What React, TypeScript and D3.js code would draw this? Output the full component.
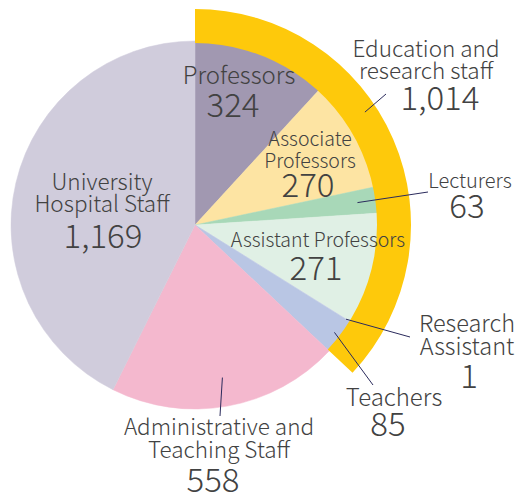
//@ts-nocheck
import { useEffect, useRef } from 'react';
import * as d3 from 'd3';

// slice data, clockwise from 12 o'clock
const categories = [
    'Professors',
    'Associate Professors',
    'Lecturers',
    'Assistant Professors',
    'Research Assistant',
    'Teachers',
    'Administrative and Teaching Staff',
    'University Hospital Staff',
];
const values = [324, 270, 63, 271, 1, 85, 558, 1169];
const colors = ['#a198b1', '#fde4a3', '#a8d8b8', '#e0f0e5', '#d6dbe8', '#b9c6e4', '#f4b8ce', '#d0ccdc'];

// outer ring group
const groupName = ['Education and', 'research staff'];
const groupSize = 6; // first six categories

// label layout: name lines, line baselines, number baseline, leader line
const labelLayout = [
    { lines: ['Professors'], x: 239, ys: [84], nx: 233, ny: 117, size: 24 },
    { lines: ['Associate', 'Professors'], x: 310, ys: [146, 168], nx: 308, ny: 197, size: 19.5 },
    { lines: ['Lecturers'], x: 470, ys: [188], nx: 467, ny: 218, size: 20, leader: { r: 164, to: [428, 192] } },
    { lines: ['Assistant Professors'], x: 318, ys: [247], nx: 316, ny: 280, size: 19.5 },
    { lines: ['Research', 'Assistant'], x: 467, ys: [332, 355], nx: 469, ny: 388, size: 23.5, leader: { r: 178, to: [410, 337] } },
    { lines: ['Teachers'], x: 394, ys: [406], nx: 388, ny: 436, size: 24, leader: { r: 176, to: [373, 385] } },
    { lines: ['Administrative and', 'Teaching Staff'], x: 219, ys: [435, 458], nx: 213, ny: 492, size: 22.5, leader: { r: 155, to: [220, 416] } },
    { lines: ['University', 'Hospital Staff'], x: 102, ys: [190, 212], nx: 103, ny: 248, size: 22.5 },
];

const FONT = '"Noto Sans CJK JP", "Noto Sans", sans-serif';
const TEXT = '#424242';
const LINE = '#2b2b5c';

const PieChart = () => {
    const svgRef = useRef();

    useEffect(() => {
        const svg = d3.select(svgRef.current);
        svg.selectAll('*').remove();

        const cx = 195;
        const cy = 225;
        const radius = 184;
        const fmt = d3.format(',');

        const pie = d3.pie().sort(null).value((d) => d);
        const arcs = pie(values);
        const arc = d3.arc().innerRadius(0).outerRadius(radius);

        const g = svg.append('g').attr('transform', `translate(${cx}, ${cy})`);

        // slices
        g.selectAll('path.slice')
            .data(arcs)
            .enter()
            .append('path')
            .attr('class', 'slice')
            .attr('d', arc)
            .attr('fill', (d, i) => colors[i])
            .attr('stroke', (d, i) => colors[i])
            .attr('stroke-width', 0.5);

        // outer ring for education & research staff
        const groupTotal = d3.sum(values.slice(0, groupSize));
        const ringArc = d3.arc()
            .innerRadius(radius - 2)
            .outerRadius(216)
            .startAngle(arcs[0].startAngle)
            .endAngle(arcs[groupSize - 1].endAngle);
        g.append('path').attr('d', ringArc()).attr('fill', '#fec90b');

        const point = (angle, r) => [Math.sin(angle) * r, -Math.cos(angle) * r];

        // leader lines
        arcs.forEach((d, i) => {
            const lay = labelLayout[i];
            if (!lay.leader) return;
            const mid = (d.startAngle + d.endAngle) / 2;
            const [x1, y1] = point(mid, lay.leader.r);
            g.append('line')
                .attr('x1', x1).attr('y1', y1)
                .attr('x2', lay.leader.to[0] - cx).attr('y2', lay.leader.to[1] - cy)
                .attr('stroke', LINE)
                .attr('stroke-width', 1);
        });

        // ring leader
        const ringStart = point(56.4 * Math.PI / 180, 204);
        g.append('line')
            .attr('x1', ringStart[0]).attr('y1', ringStart[1])
            .attr('x2', 386 - cx).attr('y2', 94 - cy)
            .attr('stroke', LINE)
            .attr('stroke-width', 1);

        // slice labels
        const labels = svg.append('g')
            .attr('font-family', FONT)
            .attr('font-weight', 300)
            .attr('fill', TEXT)
            .attr('text-anchor', 'middle');

        labelLayout.forEach((lay, i) => {
            lay.lines.forEach((t, j) => {
                labels.append('text')
                    .attr('x', lay.x)
                    .attr('y', lay.ys[j])
                    .style('font-size', `${lay.size}px`)
                    .text(t);
            });
            labels.append('text')
                .attr('x', lay.nx)
                .attr('y', lay.ny)
                .style('font-size', '33px')
                .text(fmt(values[i]));
        });

        // group label
        groupName.forEach((t, j) => {
            labels.append('text')
                .attr('x', 426)
                .attr('y', [57, 79][j])
                .style('font-size', '22.5px')
                .text(t);
        });
        labels.append('text')
            .attr('x', 440)
            .attr('y', 110)
            .style('font-size', '33px')
            .text(fmt(groupTotal));
    }, []);

    return <svg ref={svgRef} width={532} height={500}></svg>;
};

export default function App() {
    return (
        <div style={{ position: 'absolute', left: 0, top: 0, width: 532, height: 500, background: '#fff' }}>
            <PieChart />
        </div>
    );
}
